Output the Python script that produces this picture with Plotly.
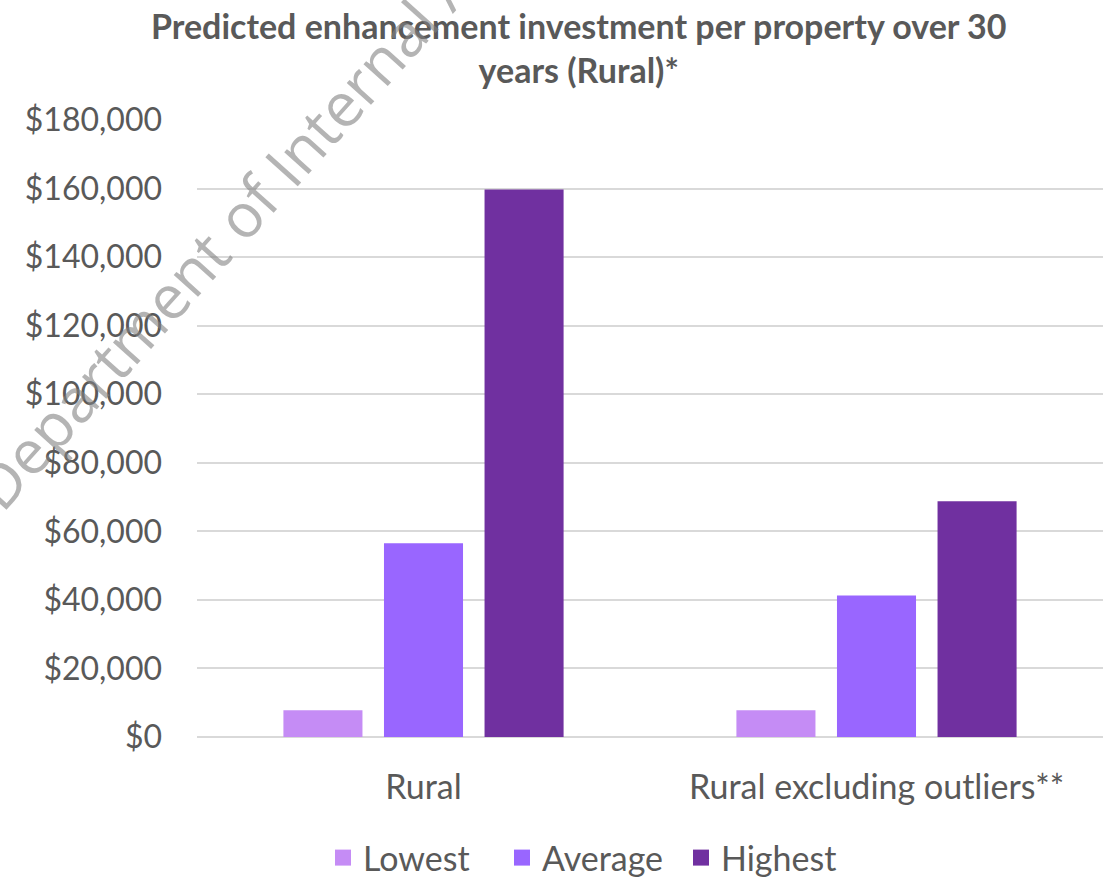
import plotly.graph_objects as go

categories = ["Rural", "Rural excluding outliers**"]
series_names = ["Lowest", "Average", "Highest"]
lowest = [7800, 7800]
average = [56500, 41300]
highest = [159700, 68800]
colors = ["#C58CF5", "#9966FF", "#7030A0"]
y_ticks = list(range(0, 180001, 20000))
y_tick_labels = ["${:,}".format(v) for v in y_ticks]

FONT = "Lato, 'Noto Sans', sans-serif"
GRAY = "#595959"

L, R, T, B = 197, 6, 120, 140
PW, PH = 1109 - L - R, 877 - T - B

fig = go.Figure()
for name, vals, col in zip(series_names, [lowest, average, highest], colors):
    fig.add_trace(go.Bar(x=categories, y=vals, name=name, marker_color=col,
                         marker_line_width=0, showlegend=False))
# legend entries (square swatches)
for name, col in zip(series_names, colors):
    fig.add_trace(go.Scatter(x=[None], y=[None], mode="markers", name=name,
                             marker=dict(symbol="square", size=20, color=col),
                             showlegend=True))

fig.update_layout(
    width=1109, height=877,
    paper_bgcolor="white", plot_bgcolor="white",
    margin=dict(l=L, r=R, t=T, b=B, autoexpand=False),
    barmode="group", bargap=0.334, bargroupgap=0.214,
    font=dict(family=FONT, color=GRAY, size=30),
    showlegend=True,
    legend=dict(orientation="h", xref="container", x=323 / 1109, xanchor="left",
                yref="container", y=(877 - 858) / 877, yanchor="middle",
                font=dict(size=34, color=GRAY), traceorder="normal",
                itemwidth=30, itemsizing="trace",
                entrywidth=134, entrywidthmode="pixels"),
)
fig.update_yaxes(range=[0, 180000], tickvals=y_ticks, ticktext=y_tick_labels,
                 showgrid=True, gridcolor="#D9D9D9", gridwidth=1.5,
                 zeroline=True, zerolinecolor="#D9D9D9", zerolinewidth=1.5,
                 ticks="", ticklabelstandoff=34, tickfont=dict(size=32, color=GRAY))
fig.update_xaxes(showgrid=False, ticks="", ticklabelstandoff=27,
                 tickfont=dict(size=34, color=GRAY))

# chart title (two lines)
fig.add_annotation(
    text="<b>Predicted enhancement investment per property over 30<br>years (Rural)*</b>",
    xref="paper", yref="paper",
    x=(578 - L) / PW, y=(877 - B - 47) / PH,
    xanchor="center", yanchor="middle", align="center", showarrow=False,
    font=dict(family=FONT, size=34, color=GRAY),
)

# watermark
fig.add_annotation(
    text="Department of Internal Affairs",
    xref="paper", yref="paper",
    x=(271 - L) / PW, y=(877 - B - 180) / PH,
    xanchor="center", yanchor="middle",
    textangle=-48, showarrow=False,
    font=dict(family="'Open Sans', sans-serif", size=61, color="rgba(130,130,130,0.6)"),
)

fig.write_html("out.html")
